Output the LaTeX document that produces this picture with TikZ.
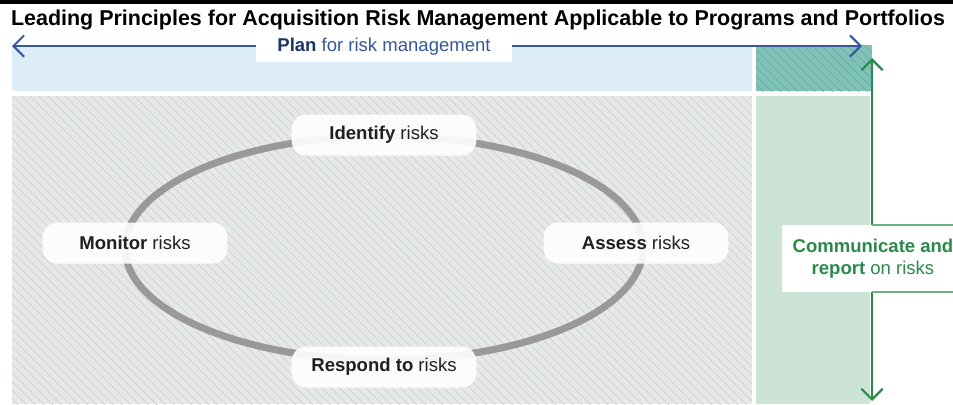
\documentclass[tikz,border=0pt]{standalone}
\usepackage{fontspec}
\setmainfont{Liberation Sans}
\usetikzlibrary{arrows.meta}
\usetikzlibrary{patterns.meta}
\definecolor{planblue}{HTML}{34589A}
\definecolor{plannavy}{HTML}{1B3565}
\definecolor{bandblue}{HTML}{DCEDF8}
\definecolor{cyclegray}{HTML}{E7E8E8}
\definecolor{hatchgray}{HTML}{C4CECE}
\definecolor{ringgray}{HTML}{999999}
\definecolor{reportgreen}{HTML}{2A8A4A}
\definecolor{reportfill}{HTML}{CCE4D5}
\definecolor{reportline}{HTML}{68B07F}
\definecolor{overlapteal}{HTML}{80C2B7}
\definecolor{overlaphatch}{HTML}{5FA99C}
\tikzset{
  labelfont/.style={font=\fontsize{13.9}{16.5}\selectfont},
  stepbox/.style={labelfont, fill=white, fill opacity=0.9, text opacity=1, text=black!88,
    rounded corners=11pt, minimum width=138.5pt, minimum height=30.75pt, inner sep=0pt},
  hatched/.style={pattern={Lines[angle=-45, distance=4.6pt, line width=0.4pt]}, pattern color=#1},
  barbs/.style={line width=#1, {Straight Barb[length=8pt, width=16pt]}-{Straight Barb[length=8pt, width=16pt]}}
}

\begin{document}
\begin{tikzpicture}[x=0.75pt, y=-0.75pt]
  \useasboundingbox (0,0) rectangle (953,404);
  \fill[black] (0,0) rectangle (953,4);
  \node[font=\fontsize{16.1}{19}\selectfont, text=black] (title) at (478,20)
    {\textbf{Leading Principles for Acquisition Risk Management Applicable to Programs and Portfolios}};

  \fill[bandblue] (12,46) rectangle (752,91);
  \fill[cyclegray] (12,96) rectangle (752,404);
  \fill[hatched=hatchgray] (12,96) rectangle (752,404);
  \fill[overlapteal] (756,45) rectangle (872,91);
  \fill[hatched=overlaphatch] (756,45) rectangle (872,91);
  \fill[reportfill] (756,96) rectangle (870,404);

  \coordinate (planL) at (12,46);
  \coordinate (planR) at (862,46);
  \draw[planblue, barbs=1.5pt] (planL) -- (planR);
  \node[labelfont, fill=white, minimum width=192pt, minimum height=22.5pt, text=planblue] (plan) at (384,47)
    {\textcolor{plannavy}{\textbf{Plan}} for risk management};

  \coordinate (reportT) at (872,58);
  \coordinate (reportB) at (872,401);
  \draw[reportgreen, barbs=1.7pt] (reportT) -- (reportB);
  \node[labelfont, fill=white, align=center, minimum width=136.5pt, minimum height=50.25pt,
    text=reportgreen] (report) at (873,258.5) {\textbf{Communicate and}\\\textbf{report} on risks};
  \draw[reportline, line width=1.2pt] (reportT |- report.north) -- (report.north east);
  \draw[reportline, line width=1.2pt] (reportT |- report.south) -- (report.south east);

  \coordinate (cycle) at (384,248);
  \draw[ringgray, line width=5.3pt] (cycle) ellipse [x radius=259, y radius=112];

  \node[stepbox] (identify) at (384,135) {\textbf{Identify} risks};
  \node[stepbox] (assess) at (636,243) {\textbf{Assess} risks};
  \node[stepbox] (respond) at (384,367) {\textbf{Respond to} risks};
  \node[stepbox] (monitor) at (135,243) {\textbf{Monitor} risks};
\end{tikzpicture}
\end{document}
